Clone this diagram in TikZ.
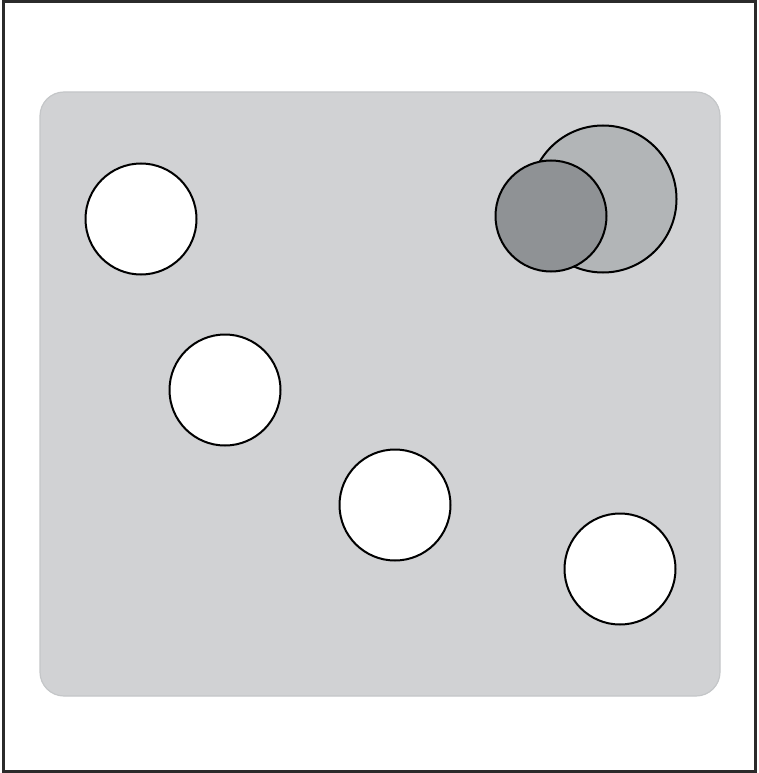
\documentclass[tikz,border=0pt]{standalone}
\begin{document}
\begin{tikzpicture}[x=1pt,y=-1pt,
  dot/.style={circle,draw=black,line width=2pt,fill=white,minimum size=111pt,inner sep=0pt},
  panel/.style={draw=panelEdge,fill=panelFill,line width=1.2pt,rounded corners=24pt}]
\definecolor{panelFill}{HTML}{D1D2D4}
\definecolor{panelEdge}{HTML}{C4C6C8}
\definecolor{lightC}{HTML}{B2B5B7}
\definecolor{darkC}{HTML}{8F9295}
\definecolor{frameC}{HTML}{2B2B2B}
\useasboundingbox (0,0) rectangle (758,773);
\draw[frameC,line width=2.5pt] (3.5,1.5) rectangle (755.5,771.5);
\draw[panel] (40,92) rectangle (720,696);
\node[dot] (w1) at (141,219) {};
\node[dot] (w2) at (225,390) {};
\node[dot] (w3) at (395,505) {};
\node[dot] (w4) at (620,569) {};
\node[dot,fill=lightC,minimum size=147pt] (big) at (603,199) {};
\node[dot,fill=darkC,minimum size=111pt] (small) at (551,216) {};
\end{tikzpicture}
\end{document}
